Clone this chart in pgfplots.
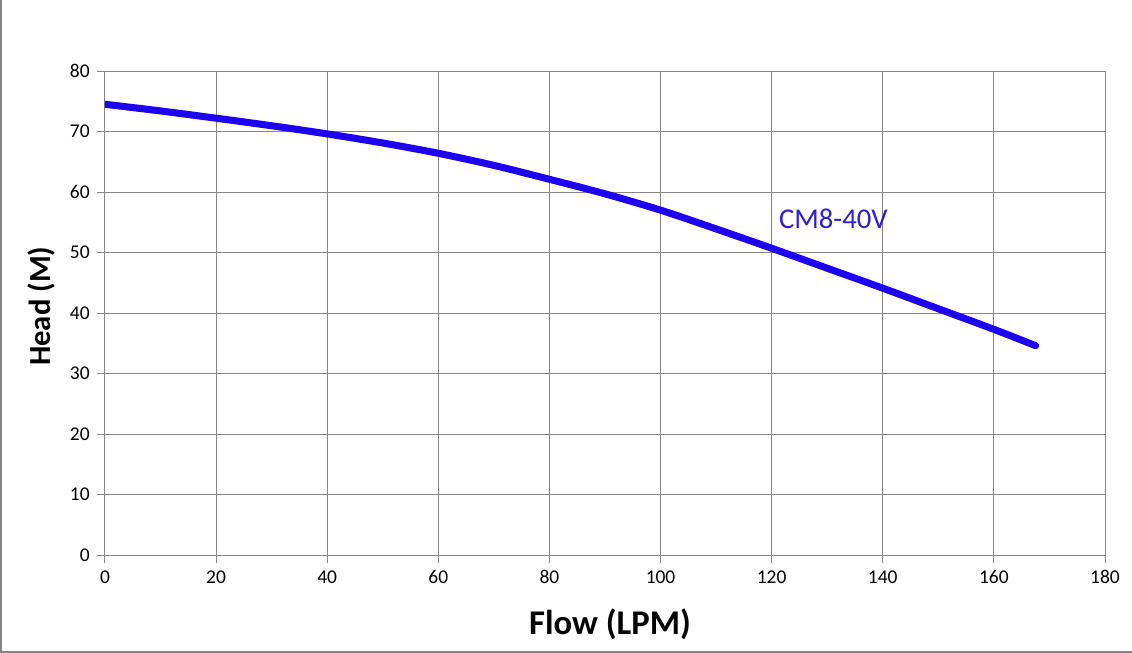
\documentclass[border=0pt]{standalone}
\usepackage{pgfplots}
\pgfplotsset{compat=1.18}
\usepackage{fontspec}
\setmainfont{Carlito}
\definecolor{gridgray}{RGB}{134,134,134}
\definecolor{curveblue}{RGB}{30,0,245}
\definecolor{labelblue}{RGB}{45,30,215}
\begin{document}
\begin{tikzpicture}
\path[use as bounding box] (-78.75pt,-73.5pt) rectangle ++(849pt,489.75pt);
\draw[gridgray, line width=1pt] (-78pt,416.25pt) -- (-78pt,-72.75pt) -- (770.25pt,-72.75pt);
\begin{axis}[
  scale only axis,
  width=750pt, height=363pt,
  xmin=0, xmax=180, ymin=0, ymax=80,
  xtick={0,20,...,180}, ytick={0,10,...,80},
  grid=major,
  major grid style={gridgray, line width=0.75pt},
  axis line style={gridgray, line width=0.75pt},
  tick style={gridgray, line width=0.75pt},
  tick align=outside,
  major tick length=6pt,
  xtick pos=bottom, ytick pos=left,
  tick label style={font=\fontsize{14.6}{17}\selectfont, black},
  /pgf/number format/assume math mode=true,
  xticklabel style={yshift=-2pt},
  yticklabel style={xshift=-2pt},
  xlabel={\fontsize{26}{30}\selectfont\bfseries Flow (LPM)},
  ylabel={\fontsize{23}{27}\selectfont\bfseries Head (M)},
  xlabel style={at={(axis description cs:0.505,0)}, anchor=north, yshift=-37pt},
  ylabel style={at={(axis description cs:0,0.514)}, anchor=south, yshift=34pt},
]
\addplot[curveblue, line width=5.3pt, line cap=round, smooth] coordinates {
(0,74.5) (10,73.4) (20,72.2) (30,70.95) (40,69.6) (50,68.1) (60,66.4) (70,64.4) (80,62.1) (90,59.7) (100,57.0) (110,53.9) (120,50.7) (130,47.4) (140,44.1) (150,40.7) (160,37.3) (167.5,34.6)
};
\node[labelblue, font=\fontsize{21.5}{25}\selectfont, anchor=west] at (axis cs:120.5,55.5) {CM8-40V};
\end{axis}
\end{tikzpicture}
\end{document}
